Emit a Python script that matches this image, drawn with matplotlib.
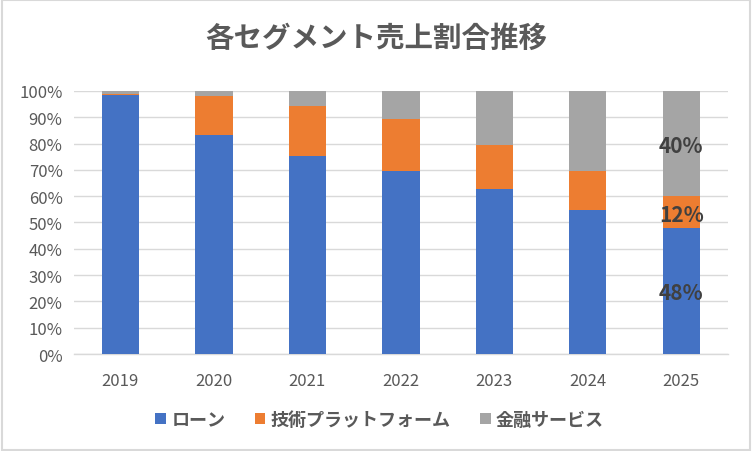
import matplotlib
matplotlib.use("Agg")
import matplotlib.pyplot as plt
from matplotlib.patches import Rectangle
import numpy as np

plt.rcParams['font.family'] = ['Noto Sans CJK JP', 'DejaVu Sans']

years = ["2019", "2020", "2021", "2022", "2023", "2024", "2025"]
loan = [98.5, 83.3, 75.4, 69.7, 62.7, 54.9, 48.0]
tech = [0.5, 14.9, 19.0, 19.8, 16.9, 14.8, 12.0]
fin = [1.0, 1.8, 5.6, 10.5, 20.4, 30.3, 40.0]
series_names = ["ローン", "技術プラットフォーム", "金融サービス"]
colors = ["#4472C4", "#ED7D31", "#A5A5A5"]
labels_2025 = ["48%", "12%", "40%"]

fig = plt.figure(figsize=(7.52, 4.52), dpi=100)
ax = fig.add_axes([0.098, 0.2146, 0.870, 0.5819])

x = np.arange(len(years))
data = [np.array(loan) / 100, np.array(tech) / 100, np.array(fin) / 100]
bottom = np.zeros(len(years))
for vals, name, c in zip(data, series_names, colors):
    ax.bar(x, vals, 0.4, bottom=bottom, color=c, label=name, zorder=3)
    bottom = bottom + vals

# data labels on last bar
b = 0.0
for vals, lab in zip(data, labels_2025):
    ax.text(x[-1], b + vals[-1] / 2 - 0.008, lab, ha='center', va='center',
            fontsize=15, fontweight='bold', color='#404040', zorder=4)
    b += vals[-1]

ax.set_xlim(-0.5, len(years) - 0.5)
ax.set_ylim(0, 1)
ax.set_yticks(np.arange(0, 1.01, 0.1))
ax.set_yticklabels([f"{int(round(v*100))}%" for v in np.arange(0, 1.01, 0.1)])
ax.set_xticks(x)
ax.set_xticklabels(years)
ax.yaxis.grid(True, color='#D9D9D9', linewidth=1.0, zorder=0)
for s in ['top', 'right', 'left']:
    ax.spines[s].set_visible(False)
ax.spines['bottom'].set_color('#D9D9D9')
ax.spines['bottom'].set_linewidth(1.0)
ax.tick_params(axis='both', length=0, colors='#595959', labelsize=12)
ax.tick_params(axis='x', pad=13)
ax.tick_params(axis='y', pad=8)

fig.text(0.5, 0.915, "各セグメント売上割合推移", ha='center', va='center',
         fontsize=20.5, fontweight='bold', color='#595959')

leg = fig.legend(loc='center', bbox_to_anchor=(0.505, 0.07), ncol=3, frameon=False,
                 prop={'size': 13, 'weight': 'bold'}, handlelength=0.6, handleheight=0.6,
                 handletextpad=0.3, columnspacing=1.6)
for t in leg.get_texts():
    t.set_color('#595959')

fig.patches.append(Rectangle((0.002, 0.003), 0.996, 0.994, transform=fig.transFigure,
                             fill=False, edgecolor='#D9D9D9', linewidth=1.5))

fig.savefig("out.png", dpi=100)
